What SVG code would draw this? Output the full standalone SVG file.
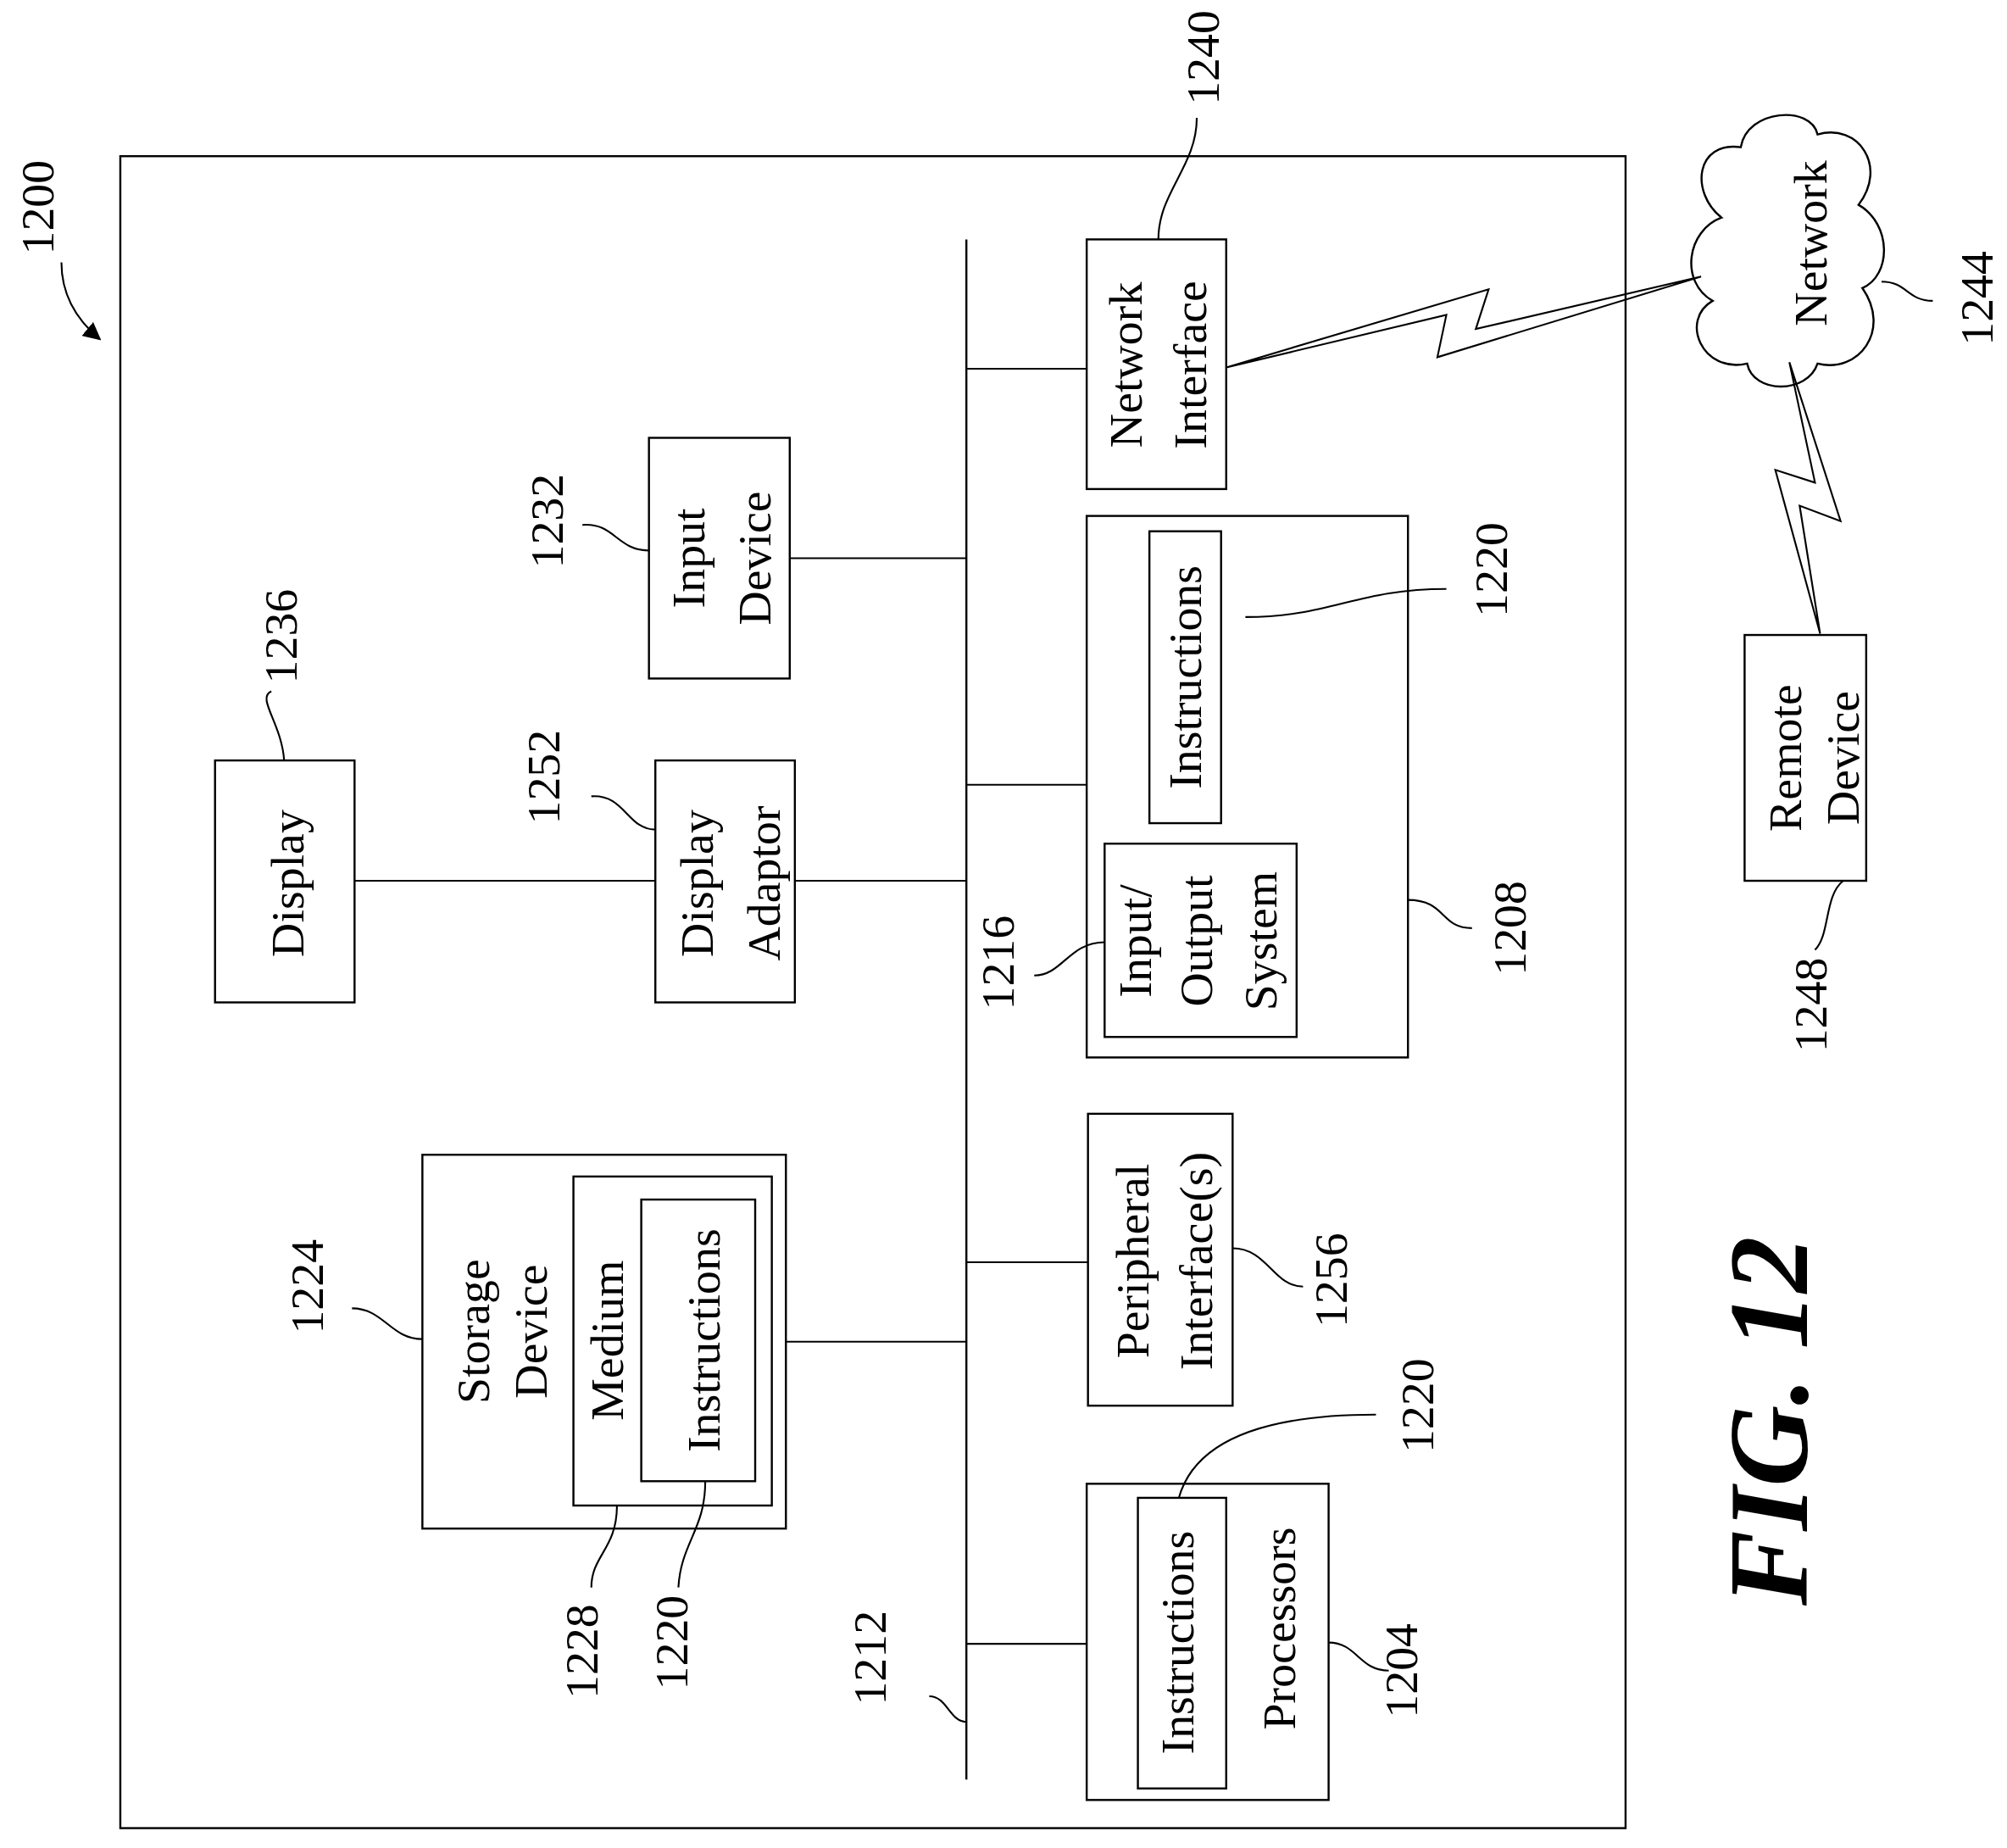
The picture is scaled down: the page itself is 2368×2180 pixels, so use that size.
<svg xmlns="http://www.w3.org/2000/svg" width="2368" height="2180" viewBox="0 0 2368 2180">
<style>
.b{fill:none;stroke:#000;stroke-width:1.6}
.l{fill:none;stroke:#000;stroke-width:1.4}
text{font-family:'Liberation Serif','DejaVu Serif','Noto Serif',serif;font-size:37px;fill:#000;text-anchor:middle}
.fig{font-size:88px;font-weight:bold;font-style:italic}
</style>
<defs><marker id="ah" viewBox="0 0 10 10" refX="9" refY="5" markerWidth="14" markerHeight="14" markerUnits="userSpaceOnUse" orient="auto"><path d="M0,0 L10,5 L0,10 z" fill="#000"/></marker></defs>
<rect width="2368" height="2180" fill="#fff"/>
<g transform="scale(1.5102)">
<g id="outer"><rect class="b" x="94" y="122" width="1176" height="1306"/>
<text transform="translate(42,162) rotate(-90)">1200</text>
<path class="l" d="M48,205 C48,230 60,250 78,265" marker-end="url(#ah)"/></g>
<g id="connectors">
<line class="b" x1="755" y1="187" x2="755" y2="1390"/>
<line class="l" x1="755" y1="288" x2="849" y2="288"/>
<line class="l" x1="617" y1="436" x2="755" y2="436"/>
<line class="l" x1="755" y1="613" x2="849" y2="613"/>
<line class="l" x1="277" y1="688" x2="512" y2="688"/>
<line class="l" x1="621" y1="688" x2="755" y2="688"/>
<line class="l" x1="614" y1="1048" x2="755" y2="1048"/>
<line class="l" x1="755" y1="986" x2="850" y2="986"/>
<line class="l" x1="755" y1="1284" x2="849" y2="1284"/>
<polygon class="l" points="958,287 1130,246 1123,279 1329,216 1153,257 1163,226"/>
<polygon class="l" points="1398,283 1418,377 1387,367 1422,495 1406,395 1438,407"/>
<text transform="translate(792,752) rotate(-90)">1216</text>
<path class="l" d="M808,762 C830,762 835,736 863,736"/>
<text transform="translate(692,1295) rotate(-90)">1212</text>
<path class="l" d="M726,1325 C740,1325 742,1345 755,1345"/>
</g>
<g id="netif"><rect class="b" x="849" y="187" width="109" height="195"/>
<text transform="translate(892,285) rotate(-90)">Network</text>
<text transform="translate(942,285) rotate(-90)">Interface</text>
<text transform="translate(952,45) rotate(-90)">1240</text>
<path class="l" d="M935,92 C935,130 905,150 905,187"/></g>
<g id="input"><rect class="b" x="507" y="342" width="110" height="188"/>
<text transform="translate(550,436) rotate(-90)">Input</text>
<text transform="translate(602,436) rotate(-90)">Device</text>
<text transform="translate(440,407) rotate(-90)">1232</text>
<path class="l" d="M455,410 C480,408 482,430 507,430"/></g>
<g id="mem"><rect class="b" x="849" y="403" width="251" height="423"/>
<rect class="b" x="898" y="415" width="56" height="228"/>
<text transform="translate(938,529) rotate(-90)">Instructions</text>
<rect class="b" x="863" y="659" width="150" height="151"/>
<text transform="translate(899,735) rotate(-90)">Input/</text>
<text transform="translate(947,735) rotate(-90)">Output</text>
<text transform="translate(997,735) rotate(-90)">System</text>
<path class="l" d="M973,482 C1040,482 1060,460 1130,460"/>
<text transform="translate(1177,445) rotate(-90)">1220</text>
<path class="l" d="M1100,703 C1130,703 1125,725 1150,725"/>
<text transform="translate(1192,725) rotate(-90)">1208</text></g>
<g id="display"><rect class="b" x="168" y="594" width="109" height="189"/>
<text transform="translate(237,690) rotate(-90)">Display</text>
<text transform="translate(232,497) rotate(-90)">1236</text>
<path class="l" d="M212,540 C200,545 220,565 222,594"/></g>
<g id="adaptor"><rect class="b" x="512" y="594" width="109" height="189"/>
<text transform="translate(557,690) rotate(-90)">Display</text>
<text transform="translate(609,690) rotate(-90)">Adaptor</text>
<text transform="translate(437,607) rotate(-90)">1252</text>
<path class="l" d="M462,622 C488,620 490,648 512,648"/></g>
<g id="storage"><rect class="b" x="330" y="902" width="284" height="292"/>
<text transform="translate(382,1040) rotate(-90)">Storage</text>
<text transform="translate(427,1040) rotate(-90)">Device</text>
<rect class="b" x="448" y="919" width="155" height="257"/>
<text transform="translate(487,1047) rotate(-90)">Medium</text>
<rect class="b" x="501" y="937" width="89" height="220"/>
<text transform="translate(562,1047) rotate(-90)">Instructions</text>
<text transform="translate(252,1005) rotate(-90)">1224</text>
<path class="l" d="M275,1022 C300,1022 305,1046 330,1046"/>
<path class="l" d="M482,1176 C482,1210 462,1215 462,1240"/>
<text transform="translate(467,1290) rotate(-90)">1228</text>
<path class="l" d="M551,1157 C551,1195 532,1205 530,1240"/>
<text transform="translate(537,1283) rotate(-90)">1220</text></g>
<g id="periph"><rect class="b" x="850" y="870" width="113" height="228"/>
<text transform="translate(897,985) rotate(-90)">Peripheral</text>
<text transform="translate(947,985) rotate(-90)">Interface(s)</text>
<path class="l" d="M963,975 C990,975 995,1005 1018,1005"/>
<text transform="translate(1052,1000) rotate(-90)">1256</text></g>
<g id="proc"><rect class="b" x="849" y="1159" width="189" height="247"/>
<rect class="b" x="889" y="1170" width="69" height="227"/>
<text transform="translate(932,1283) rotate(-90)">Instructions</text>
<text transform="translate(1012,1272) rotate(-90)">Processors</text>
<path class="l" d="M921,1170 C935,1120 1000,1105 1075,1105"/>
<text transform="translate(1120,1098) rotate(-90)">1220</text>
<path class="l" d="M1038,1283 C1060,1283 1062,1305 1085,1305"/>
<text transform="translate(1107,1305) rotate(-90)">1204</text></g>
<g id="network">
<path class="b" d="M1345,170 C1320,150 1325,110 1360,115 C1365,85 1415,82 1420,105 C1452,96 1475,130 1452,160 C1478,175 1478,215 1455,225 C1478,258 1452,292 1420,284 C1412,308 1370,308 1365,284 C1330,292 1312,250 1338,235 C1312,220 1318,180 1345,170 Z"/>
<text transform="translate(1427,190) rotate(-90)">Network</text>
<path class="l" d="M1470,220 C1490,220 1490,235 1510,235"/>
<text transform="translate(1557,233) rotate(-90)">1244</text></g>
<g id="remote"><rect class="b" x="1363" y="496" width="95" height="192"/>
<text transform="translate(1407,592) rotate(-90)">Remote</text>
<text transform="translate(1452,592) rotate(-90)">Device</text>
<path class="l" d="M1440,688 C1425,700 1430,730 1418,742"/>
<text transform="translate(1427,785) rotate(-90)">1248</text></g>
<text class="fig" transform="translate(1412,1110) rotate(-90)">FIG. 12</text>
</g>
</svg>
